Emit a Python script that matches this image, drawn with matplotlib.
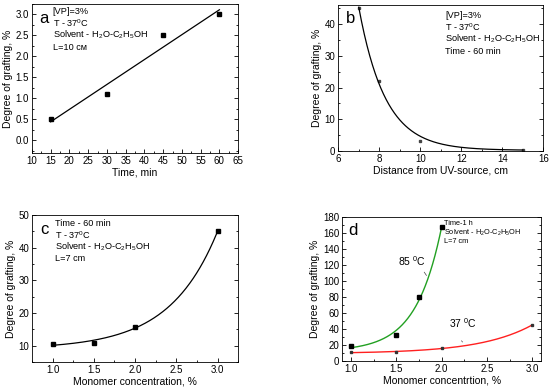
import numpy as np
import matplotlib
matplotlib.use("Agg")
import matplotlib.pyplot as plt
from matplotlib.ticker import MultipleLocator

plt.rcParams['font.family'] = ['Liberation Sans', 'DejaVu Sans']
plt.rcParams['mathtext.fontset'] = 'custom'
plt.rcParams['mathtext.rm'] = 'Liberation Sans'
plt.rcParams['mathtext.it'] = 'Liberation Sans'

# panel a: time dependence
time_min = [15, 30, 45, 60]
grafting_time = [0.5, 1.1, 2.5, 3.0]

# panel b: distance from UV source
distance_cm = [7, 8, 10, 15]
grafting_dist = [45.0, 22.0, 3.0, 0.3]

# panel c: monomer concentration
conc_c = [1.0, 1.5, 2.0, 3.0]
grafting_conc = [10.7, 10.8, 15.8, 45.0]

# panel d: two temperatures
conc_85 = [1.0, 1.5, 1.75, 2.0]
grafting_85 = [19.0, 33.0, 80.0, 167.0]
conc_37 = [1.0, 1.5, 2.0, 3.0]
grafting_37 = [11.0, 11.0, 16.0, 45.0]

SUB = r"H$_2$O-C$_2$H$_5$OH"


def exp_fit(x, y, y0_min=None):
    # y = y0 + A*exp(k*x), grid over k, linear least squares for A and y0
    x = np.asarray(x, float)
    y = np.asarray(y, float)
    best = None
    for k in np.linspace(-4, 6, 4001):
        if abs(k) < 1e-6:
            continue
        M = np.column_stack([np.ones_like(x), np.exp(k * x)])
        coef, *_ = np.linalg.lstsq(M, y, rcond=None)
        if y0_min is not None and coef[0] < y0_min:
            e = np.exp(k * x)
            a = np.sum(e * (y - y0_min)) / np.sum(e * e)
            coef = np.array([y0_min, a])
        err = np.sum((M @ coef - y) ** 2)
        if best is None or err < best[0]:
            best = (err, coef[0], coef[1], k)
    _, y0, A, k = best
    return lambda t: y0 + A * np.exp(k * t)


def style(ax):
    ax.tick_params(which='both', direction='in', right=True, top=False,
                   labelsize=7, pad=2, width=0.6)
    ax.tick_params(which='major', length=3)
    ax.tick_params(which='minor', length=1.5)
    for s in ax.spines.values():
        s.set_linewidth(0.6)
    ax.set_ylabel("Degree of grafting, %", fontsize=7.5, labelpad=2)


def notes(ax, x, ys, lines, fs=6.6):
    for y, t in zip(ys, lines):
        ax.text(x, y, t, transform=ax.transAxes, fontsize=fs, va='center', ha='left')


fig = plt.figure(figsize=(5.5, 3.89), dpi=100)

# ---- a
ax = fig.add_axes([0.058, 0.607, 0.375, 0.383])
ax.plot(time_min, grafting_time, 's', color='black', ms=2.5)
p = np.polyfit(time_min, grafting_time, 1)
tt = np.array([min(time_min), max(time_min)])
ax.plot(tt, np.polyval(p, tt), color='black', lw=0.9)
ax.set_xlim(10, 65)
ax.set_ylim(-0.3, 3.25)
ax.xaxis.set_major_locator(MultipleLocator(5))
ax.xaxis.set_minor_locator(MultipleLocator(2.5))
ax.yaxis.set_major_locator(MultipleLocator(0.5))
ax.yaxis.set_minor_locator(MultipleLocator(0.25))
ax.yaxis.set_major_formatter(matplotlib.ticker.FormatStrFormatter('%.1f'))
style(ax)
ax.set_xlabel("Time, min", fontsize=7.5, labelpad=1)
ax.text(0.035, 0.90, "a", transform=ax.transAxes, fontsize=12, va='center')
notes(ax, 0.10, [0.946, 0.87, 0.795, 0.71],
      ["[VP]=3%", r"T - 37$^0$C", "Solvent - " + SUB, "L=10 см"])

# ---- b
ax = fig.add_axes([0.615, 0.612, 0.373, 0.375])
ax.plot(distance_cm, grafting_dist, 's', color='#444444', ms=2)
f = exp_fit(distance_cm, grafting_dist, y0_min=0.2)
xx = np.linspace(min(distance_cm), max(distance_cm), 300)
ax.plot(xx, f(xx), color='black', lw=0.9)
ax.set_xlim(6, 16)
ax.set_ylim(0, 46)
ax.xaxis.set_major_locator(MultipleLocator(2))
ax.xaxis.set_minor_locator(MultipleLocator(1))
ax.yaxis.set_major_locator(MultipleLocator(10))
ax.yaxis.set_minor_locator(MultipleLocator(5))
style(ax)
ax.set_xlabel("Distance from UV-source, cm", fontsize=7.5, labelpad=1)
ax.text(0.035, 0.91, "b", transform=ax.transAxes, fontsize=12, va='center')
notes(ax, 0.52, [0.93, 0.85, 0.77, 0.685],
      ["[VP]=3%", r"T - 37$^0$C", "Solvent - " + SUB, "Time - 60 min"])

# ---- c
ax = fig.add_axes([0.058, 0.069, 0.375, 0.378])
ax.plot(conc_c, grafting_conc, 's', color='black', ms=2.5)
f = exp_fit(conc_c, grafting_conc)
xx = np.linspace(min(conc_c), max(conc_c), 300)
ax.plot(xx, f(xx), color='black', lw=0.9)
ax.set_xlim(0.75, 3.25)
ax.set_ylim(5, 50)
ax.xaxis.set_major_locator(MultipleLocator(0.5))
ax.xaxis.set_minor_locator(MultipleLocator(0.25))
ax.yaxis.set_major_locator(MultipleLocator(10))
ax.yaxis.set_minor_locator(MultipleLocator(5))
style(ax)
ax.set_yticks([10, 20, 30, 40, 50])
ax.set_xlabel("Monomer concentration, %", fontsize=7.5, labelpad=1)
ax.text(0.04, 0.905, "c", transform=ax.transAxes, fontsize=12, va='center')
notes(ax, 0.11, [0.946, 0.864, 0.782, 0.705],
      ["Time - 60 min", r"T - 37$^0$C", "Solvent - " + SUB, "L=7 cm"])

# ---- d
ax = fig.add_axes([0.622, 0.072, 0.362, 0.370])
f85 = exp_fit(conc_85, grafting_85)
xx = np.linspace(min(conc_85), max(conc_85), 300)
ax.plot(xx, f85(xx), color='#22a022', lw=1.0)
f37 = exp_fit(conc_37, grafting_37)
xx = np.linspace(min(conc_37), max(conc_37), 300)
ax.plot(xx, f37(xx), color='#ff2020', lw=1.0)
ax.plot(conc_85, grafting_85, 's', color='black', ms=2.2)
ax.plot(conc_37, grafting_37, 's', color='#333333', ms=2)
ax.set_xlim(0.9, 3.1)
ax.set_ylim(0, 180)
ax.xaxis.set_major_locator(MultipleLocator(0.5))
ax.xaxis.set_minor_locator(MultipleLocator(0.25))
ax.yaxis.set_major_locator(MultipleLocator(20))
ax.yaxis.set_minor_locator(MultipleLocator(10))
style(ax)
ax.set_xlabel("Monomer concentrtion, %", fontsize=7.5, labelpad=1)
ax.text(0.03, 0.91, "d", transform=ax.transAxes, fontsize=12, va='center')
notes(ax, 0.51, [0.955, 0.893, 0.83],
      ["Time-1 h", "Solvent - " + SUB, "L=7 cm"], fs=5.3)
ax.text(1.52, 125, r"85 $^0$C", fontsize=7.5, va='center')
ax.annotate('', xy=(1.85, 104), xytext=(1.79, 114),
            arrowprops=dict(arrowstyle='-', lw=0.5, color='#444444'))
ax.text(2.08, 47, r"37 $^0$C", fontsize=7.5, va='center')
ax.annotate('', xy=(2.25, 21), xytext=(2.20, 28),
            arrowprops=dict(arrowstyle='-', lw=0.5, color='#444444'))

fig.savefig("out.png", dpi=100)
